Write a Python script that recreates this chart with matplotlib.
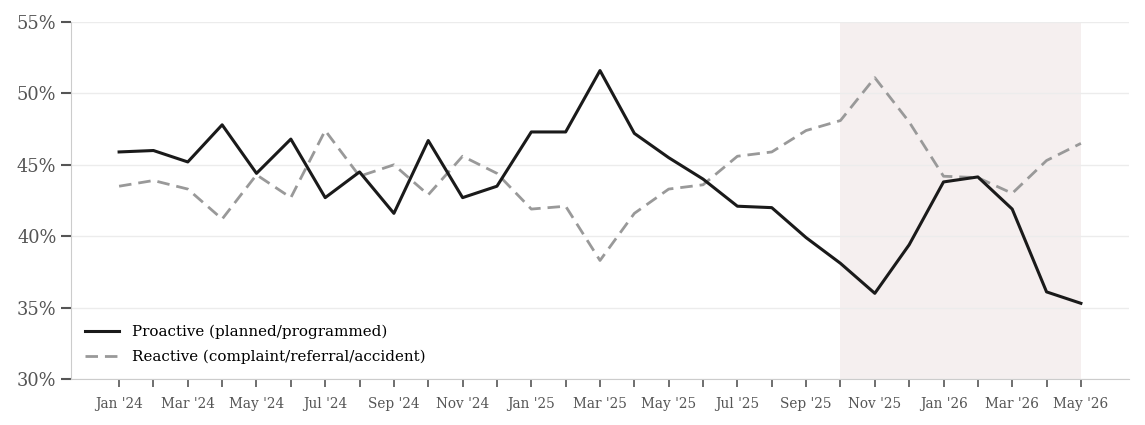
import numpy as np
import matplotlib
matplotlib.use('Agg')
import matplotlib.pyplot as plt

months = ["Jan '24", "Feb '24", "Mar '24", "Apr '24", "May '24", "Jun '24", "Jul '24",
          "Aug '24", "Sep '24", "Oct '24", "Nov '24", "Dec '24", "Jan '25", "Feb '25",
          "Mar '25", "Apr '25", "May '25", "Jun '25", "Jul '25", "Aug '25", "Sep '25",
          "Oct '25", "Nov '25", "Dec '25", "Jan '26", "Feb '26", "Mar '26", "Apr '26",
          "May '26"]

proactive = [45.9, 46.0, 45.2, 47.8, 44.4, 46.8, 42.7, 44.5, 41.6, 46.7, 42.7, 43.5,
             47.3, 47.3, 51.6, 47.2, 45.5, 44.0, 42.1, 42.0, 39.9, 38.1, 36.0, 39.4,
             43.8, 44.15, 41.9, 36.1, 35.3]

reactive = [43.5, 43.9, 43.3, 41.2, 44.3, 42.7, 47.4, 44.2, 45.0, 42.9, 45.6, 44.4,
            41.9, 42.1, 38.3, 41.6, 43.3, 43.6, 45.6, 45.9, 47.4, 48.1, 51.1, 48.0,
            44.2, 44.1, 43.0, 45.3, 46.5]

shade_start = "Oct '25"
shade_end = "May '26"

plt.rcParams['font.family'] = ['DejaVu Serif']

fig = plt.figure(figsize=(11.45, 4.25), dpi=100)
ax = fig.add_axes([71/1145, 1 - 379/425, (1129-71)/1145, (379-22)/425])

x = np.arange(len(months))

# highlighted period
ax.axvspan(months.index(shade_start), months.index(shade_end), color='#f5efef', zorder=0, lw=0)

ax.plot(x, proactive, color='#1a1a1a', lw=2.2, label='Proactive (planned/programmed)', zorder=3)
ax.plot(x, reactive, color='#999999', lw=2.0, ls=(0, (4.5, 2.5)),
        label='Reactive (complaint/referral/accident)', zorder=2)

ax.set_xlim(-1.4, len(months) - 1 + 1.4)
ax.set_ylim(30, 55)
ax.set_yticks(np.arange(30, 56, 5))
ax.set_yticklabels([f'{v}%' for v in range(30, 56, 5)])
ax.set_xticks(x)
ax.set_xticklabels([m if i % 2 == 0 else '' for i, m in enumerate(months)])

ax.grid(axis='y', color='#ececec', lw=1, zorder=1)
ax.set_axisbelow(True)

for s in ['top', 'right']:
    ax.spines[s].set_visible(False)
for s in ['left', 'bottom']:
    ax.spines[s].set_color('#cccccc')

ax.tick_params(axis='y', colors='#555555', labelsize=12.8, length=7, width=1.5)
ax.tick_params(axis='x', colors='#555555', labelsize=9.8, length=6, width=1.2, pad=7)
ax.tick_params(axis='both', color='#555555')

ax.legend(loc='lower left', frameon=False, fontsize=10.9, handlelength=2.3,
          labelspacing=0.68, bbox_to_anchor=(0.0, 0.004))

fig.savefig('out.png', dpi=100)
